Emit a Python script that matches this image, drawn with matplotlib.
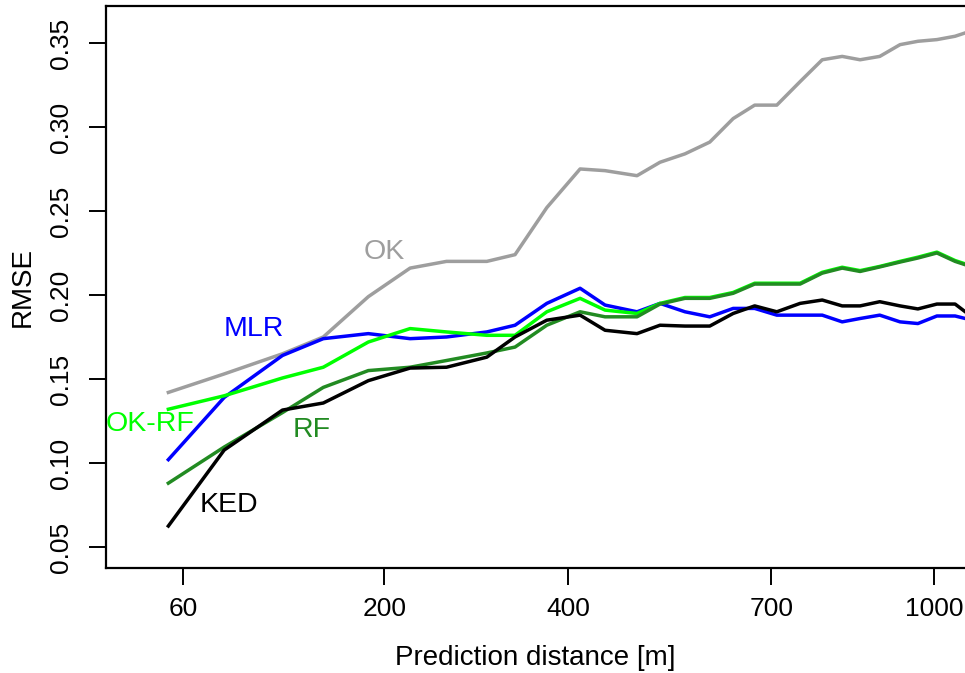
import numpy as np
import matplotlib.pyplot as plt

plt.rcParams['font.family'] = ['Liberation Sans', 'DejaVu Sans']

# prediction distance [m] of each bin (x axis is drawn on a sqrt scale)
dist = [53, 82, 119, 149, 186, 224, 260, 303, 335, 373, 415, 448, 492, 525, 562,
        600, 637, 672, 709, 749, 788, 824, 857, 894, 933, 968, 1006, 1043, 1064]

rmse_ok = [0.142, 0.153, 0.165, 0.175, 0.199, 0.216, 0.220, 0.220, 0.224, 0.252,
           0.275, 0.274, 0.271, 0.279, 0.284, 0.291, 0.305, 0.313, 0.313, 0.327,
           0.340, 0.342, 0.340, 0.342, 0.349, 0.351, 0.352, 0.354, 0.356]
rmse_mlr = [0.102, 0.139, 0.164, 0.174, 0.177, 0.174, 0.175, 0.178, 0.182, 0.195,
            0.204, 0.194, 0.190, 0.195, 0.190, 0.187, 0.192, 0.192, 0.188, 0.188,
            0.188, 0.184, 0.186, 0.188, 0.184, 0.183, 0.1875, 0.1875, 0.186]
rmse_okrf = [0.132, 0.140, 0.1506, 0.157, 0.172, 0.180, 0.178, 0.176, 0.176, 0.190,
             0.198, 0.191, 0.189, 0.195, 0.1985, 0.1985, 0.2015, 0.207, 0.207, 0.207,
             0.2135, 0.2165, 0.2145, 0.217, 0.220, 0.2225, 0.2255, 0.2205, 0.2185]
rmse_rf = [0.088, 0.1095, 0.130, 0.145, 0.155, 0.157, 0.161, 0.1655, 0.169, 0.182,
           0.190, 0.187, 0.187, 0.1946, 0.198, 0.198, 0.201, 0.2065, 0.2065, 0.2065,
           0.213, 0.216, 0.214, 0.2167, 0.2196, 0.222, 0.225, 0.220, 0.218]
rmse_ked = [0.0625, 0.1077, 0.1315, 0.1357, 0.149, 0.1565, 0.157, 0.163, 0.175, 0.185,
            0.188, 0.179, 0.177, 0.182, 0.1815, 0.1815, 0.189, 0.1935, 0.190, 0.195,
            0.197, 0.1935, 0.1935, 0.196, 0.1935, 0.1917, 0.1946, 0.1946, 0.190]

xticks = [60, 200, 400, 700, 1000]
yticks = [0.05, 0.10, 0.15, 0.20, 0.25, 0.30, 0.35]

fig = plt.figure(figsize=(9.65, 6.73), dpi=100)
ax = fig.add_axes([106/965, (673-568)/673, 1 - 106/965, (568-6)/673])

x = np.sqrt(dist)
lw = 2.5
ax.plot(x, rmse_ok, color='#9e9e9e', lw=lw)
ax.plot(x, rmse_mlr, color='#0000ff', lw=lw)
ax.plot(x, rmse_okrf, color='#00ff00', lw=lw)
ax.plot(x, rmse_rf, color='#228b22', lw=lw)
ax.plot(x, rmse_ked, color='black', lw=lw)

fs = 20.5
ax.text(np.sqrt(200), 0.2255, 'OK', color='#9e9e9e', fontsize=fs, ha='center', va='center')
ax.text(np.sqrt(100), 0.180, 'MLR', color='#0000ff', fontsize=fs, ha='center', va='center')
ax.text(np.sqrt(45), 0.1235, 'OK-RF', color='#00ff00', fontsize=fs, ha='center', va='center')
ax.text(np.sqrt(140), 0.1195, 'RF', color='#228b22', fontsize=fs, ha='center', va='center')
ax.text(np.sqrt(85), 0.075, 'KED', color='black', fontsize=fs, ha='center', va='center')

ax.set_xlim((106 + 60.6) / 31.45, (965 + 60.6) / 31.45)
ax.set_ylim(0.0375, 0.372)
ax.set_xticks(np.sqrt(xticks))
ax.set_xticklabels([str(t) for t in xticks])
ax.set_yticks(yticks)
ax.set_yticklabels(['%.2f' % t for t in yticks], rotation=90, va='center')

ax.spines['right'].set_visible(False)
for s in ['left', 'top', 'bottom']:
    ax.spines[s].set_linewidth(1.6)
ax.tick_params(axis='both', labelsize=19, length=12, width=1.4)
ax.tick_params(axis='x', pad=9)
ax.tick_params(axis='y', pad=12)

ax.set_xlabel('Prediction distance [m]', fontsize=20, labelpad=17)
ax.set_ylabel('RMSE', fontsize=20, labelpad=9)

fig.savefig('out.png', dpi=100)
